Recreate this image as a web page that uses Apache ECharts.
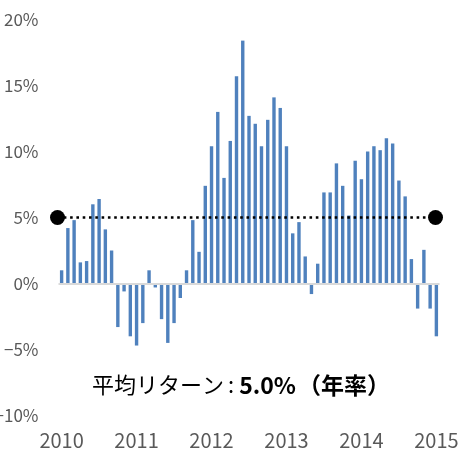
<!DOCTYPE html>
<html>
<head>
<meta charset="utf-8">
<style>html,body{margin:0;padding:0;background:#fff;}#c{width:459px;height:455px;}</style>
<script src="https://cdn.jsdelivr.net/npm/echarts@6/dist/echarts.min.js"></script>
</head>
<body>
<div id="c"></div>
<script>
// Monthly returns (%), Jan 2010 .. Jan 2015
const years = ['2010','2011','2012','2013','2014','2015'];
const returns2010 = [1.0, 4.2, 4.8, 1.6, 1.7, 6.0, 6.4, 4.1, 2.5, -3.3, -0.6, -4.0];
const returns2011 = [-4.7, -3.0, 1.0, -0.3, -2.7, -4.5, -3.0, -1.1, 1.0, 4.8, 2.4, 7.4];
const returns2012 = [10.4, 13.0, 8.0, 10.8, 15.7, 18.4, 12.7, 12.1, 10.4, 12.4, 14.1, 13.3];
const returns2013 = [10.4, 3.8, 4.65, 2.05, -0.8, 1.5, 6.9, 6.9, 9.1, 7.4, 5.15, 9.3];
const returns2014 = [7.9, 10.0, 10.4, 10.1, 11.0, 10.6, 7.8, 6.6, 1.85, -1.9, 2.55, -1.9];
const returns2015 = [-4.0];
const averageReturn = 5.0;
const yTicks = [-10, -5, 0, 5, 10, 15, 20];

const values = [].concat(returns2010, returns2011, returns2012, returns2013, returns2014, returns2015);
const months = values.map((v, i) => years[Math.floor(i / 12)] + '-' + String(i % 12 + 1).padStart(2, '0'));

const chart = echarts.init(document.getElementById('c'));
const gridTop = 19.5, gridBottom = 455 - 415.5;
chart.setOption({
  animation: false,
  grid: [
    {left: 58.5, right: 19.5, top: gridTop, bottom: gridBottom, containLabel: false, outerBoundsMode: 'none'},
    {left: 57.5, right: 23.5, top: gridTop, bottom: gridBottom, containLabel: false, outerBoundsMode: 'none'}
  ],
  xAxis: [
    {
      type: 'category', gridIndex: 0, data: months,
      axisLine: {show: false, onZero: false},
      axisTick: {show: false},
      splitLine: {show: false},
      axisLabel: {
        interval: (i) => i % 12 === 0,
        formatter: (v) => v.slice(0, 4),
        color: '#595959', fontSize: 20, margin: 15,
        fontFamily: 'Noto Sans CJK JP'
      }
    },
    {type: 'value', gridIndex: 1, min: 0, max: 1, show: false}
  ],
  yAxis: [
    {
      type: 'value', gridIndex: 0, min: yTicks[0], max: yTicks[yTicks.length - 1], interval: 5,
      axisLine: {show: false}, axisTick: {show: false}, splitLine: {show: false},
      axisLabel: {
        color: '#595959', fontSize: 17, margin: 20,
        fontFamily: 'Noto Sans CJK JP',
        formatter: (v) => (v < 0 ? '\u2212' + Math.abs(v) : v) + '%'
      }
    },
    {type: 'value', gridIndex: 1, min: yTicks[0], max: yTicks[yTicks.length - 1], show: false}
  ],
  series: [
    {
      type: 'bar', xAxisIndex: 0, yAxisIndex: 0, data: values,
      barWidth: 3.4,
      itemStyle: {color: '#4f81bd'},
      markLine: {
        silent: true, symbol: 'none', label: {show: false},
        lineStyle: {color: '#d9d9d9', width: 2, type: 'solid'},
        data: [{yAxis: 0}]
      },
      z: 2
    },
    {
      type: 'line', xAxisIndex: 1, yAxisIndex: 1,
      data: [[0, averageReturn], [1, averageReturn]],
      symbol: 'circle', symbolSize: 15,
      itemStyle: {color: '#000'},
      lineStyle: {color: '#000', width: 2.6, type: [2.6, 3.7], cap: 'butt'},
      z: 5
    }
  ],
  graphic: [{
    type: 'text',
    style: {
      x: 241, y: 385, textAlign: 'center', textVerticalAlign: 'middle',
      text: '{a|平均リターン}{c|:}{b|' + averageReturn.toFixed(1) + '%}{d|（年率）}',
      rich: {
        a: {fontSize: 22, fontFamily: 'Noto Sans CJK JP', fill: '#000', fontWeight: 'normal'},
        c: {fontSize: 22, fontFamily: 'Noto Sans CJK JP', fill: '#000', padding: [0, 5, 0, 4]},
        b: {fontSize: 23, fontFamily: 'Noto Sans CJK JP', fill: '#000', fontWeight: 'bold'},
        d: {fontSize: 23, fontFamily: 'Noto Sans CJK JP', fill: '#000', fontWeight: 'bold', padding: [0, 0, 0, 2]}
      }
    }
  }]
});
</script>
</body>
</html>
